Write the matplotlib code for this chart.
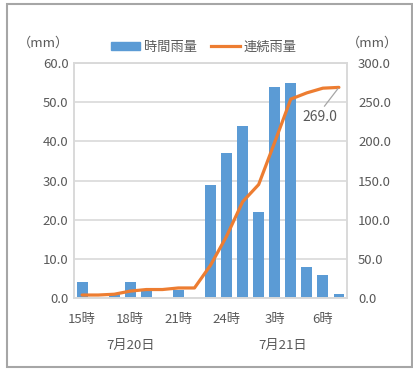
import matplotlib.pyplot as plt
from matplotlib.patches import Rectangle
from matplotlib.lines import Line2D

plt.rcParams['font.family'] = ['Noto Sans CJK JP', 'DejaVu Sans']

# hourly rainfall, 7/20 15:00 - 7/21 7:00
hours = ['15時', '16時', '17時', '18時', '19時', '20時', '21時', '22時', '23時',
         '24時', '1時', '2時', '3時', '4時', '5時', '6時', '7時']
hourly = [4, 0, 1, 4, 2, 0, 2, 0, 29, 37, 44, 22, 54, 55, 8, 6, 1]
cumulative = [4, 4, 5, 9, 11, 11, 13, 13, 42, 79, 123, 145, 199, 254, 262, 268, 269]
tick_idx = [0, 3, 6, 9, 12, 15]
dates = ['7月20日', '7月21日']
date_pos = [3, 12.5]

BLUE = '#5B9BD5'
ORANGE = '#ED7D31'
TEXT = '#595959'
GRID = '#D9D9D9'


def main():
    fig = plt.figure(figsize=(4.14, 3.69), dpi=100)
    ax = fig.add_axes([0.179, 0.192, 0.659, 0.637])
    ax2 = ax.twinx()

    x = list(range(len(hours)))
    ax.bar(x, hourly, width=0.67, color=BLUE, zorder=2)
    ax2.plot(x, cumulative, color=ORANGE, lw=2.3, solid_capstyle='round', zorder=3)

    ax.set_xlim(-0.5, len(hours) - 0.5)
    ax.set_ylim(0, 60)
    ax2.set_ylim(0, 300)
    ax.set_yticks(range(0, 61, 10))
    ax2.set_yticks(range(0, 301, 50))
    ax.set_yticklabels([f'{v:.1f}' for v in range(0, 61, 10)])
    ax2.set_yticklabels([f'{v:.1f}' for v in range(0, 301, 50)])
    ax.set_xticks(tick_idx)
    ax.set_xticklabels([hours[i] for i in tick_idx])

    ax.yaxis.grid(True, color=GRID, lw=1.2, zorder=0)
    ax.set_axisbelow(True)
    for a in (ax, ax2):
        for s in a.spines.values():
            s.set_color(GRID)
            s.set_linewidth(1.2)
        a.tick_params(length=0, colors=TEXT, labelsize=9.5)
    ax.tick_params(axis='x', pad=10.5)
    ax.tick_params(axis='y', pad=4)
    ax2.tick_params(axis='y', pad=8)

    # date row under the hour labels
    for d, p in zip(dates, date_pos):
        ax.text(p, -0.2, d, transform=ax.get_xaxis_transform(),
                ha='center', va='center', color=TEXT, fontsize=9.5)

    # unit labels
    fig.text(43 / 414, 1 - 43 / 369, '（mm）', ha='center', va='center',
             color=TEXT, fontsize=9.5)
    fig.text(372 / 414, 1 - 43 / 369, '（mm）', ha='center', va='center',
             color=TEXT, fontsize=9.5)

    # data label for final cumulative value, with leader line
    ax2.annotate(f'{cumulative[-1]:.1f}', xy=(x[-1], cumulative[-1]),
                 xytext=(x[-1] - 1.2, cumulative[-1] - 38),
                 ha='center', va='center', color=TEXT, fontsize=10,
                 arrowprops=dict(arrowstyle='-', color='#A6A6A6', lw=0.9,
                                 relpos=(0.55, 1.0), shrinkA=1, shrinkB=1))

    handles = [Rectangle((0, 0), 1, 1, color=BLUE),
               Line2D([], [], color=ORANGE, lw=2.3)]
    fig.legend(handles, ['時間雨量', '連続雨量'], loc='center',
               bbox_to_anchor=(204 / 414, 1 - 47 / 369), ncol=2, frameon=False,
               fontsize=9.5, labelcolor=TEXT, handlelength=2.2,
               handleheight=0.6, columnspacing=1.0, handletextpad=0.3)

    # chart frame
    fig.patches.append(Rectangle((7 / 414, 2 / 369), 405 / 414, 363 / 369,
                                 transform=fig.transFigure, fill=False,
                                 edgecolor='#A6A6A6', lw=1.5))

    fig.savefig('out.png', dpi=100)


if __name__ == '__main__':
    main()
